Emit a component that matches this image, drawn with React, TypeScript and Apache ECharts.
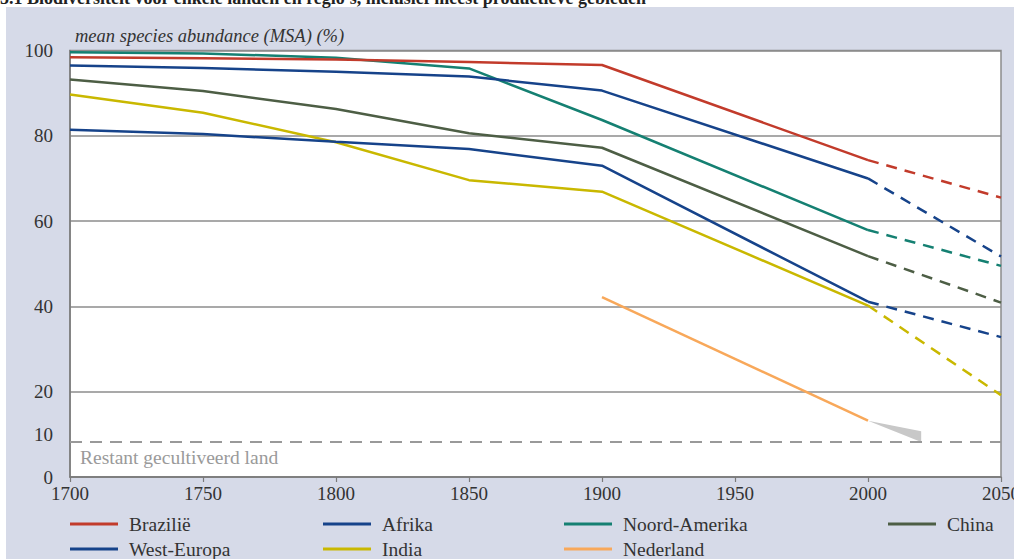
import React, { useEffect, useRef } from "react";
import * as echarts from "echarts";

// ---- data ----
const histYears = [1700, 1750, 1800, 1850, 1900, 2000];
const projYears = [2000, 2050];

const brazilie = [98.4, 98.2, 97.9, 97.3, 96.6, 74.3];
const brazilieProj = [74.3, 65.5];
const afrika = [96.5, 95.9, 95.0, 93.9, 90.6, 70.0];
const afrikaProj = [70.0, 51.7];
const noordAmerika = [99.6, 99.3, 98.3, 95.8, 83.7, 57.9];
const noordAmerikaProj = [57.9, 49.5];
const china = [93.2, 90.5, 86.3, 80.6, 77.2, 51.8];
const chinaProj = [51.8, 40.9];
const westEuropa = [81.4, 80.4, 78.6, 76.9, 73.0, 41.1];
const westEuropaProj = [41.1, 32.8];
const india = [89.7, 85.4, 78.5, 69.6, 66.9, 40.2];
const indiaProj = [40.2, 19.2];
const nederlandYears = [1900, 2000];
const nederland = [42.2, 13.2];

const wedgeYears = [2000, 2020, 2020];
const wedgeValues = [13.2, 10.7, 8.2];

const restantYears = [1700, 2050];
const restantValue = 8.2;

const yTickLabels = [0, 10, 20, 40, 60, 80, 100];

const FONT = "'Liberation Serif', 'Times New Roman', serif";

const COLORS: Record<string, string> = {
  "Brazilië": "#c23b2b",
  Afrika: "#16438a",
  "Noord-Amerika": "#158072",
  China: "#4d5e45",
  "West-Europa": "#16438a",
  India: "#c9b800",
  Nederland: "#f8a85a",
};

const pairs = (xs: number[], ys: number[]) => xs.map((x, i) => [x, ys[i]]);

export default function App() {
  const ref = useRef<HTMLDivElement>(null);

  useEffect(() => {
    if (!ref.current) return;
    const chart = echarts.init(ref.current, undefined, { renderer: "svg" });

    const regions: [string, number[], number[]][] = [
      ["Brazilië", brazilie, brazilieProj],
      ["Afrika", afrika, afrikaProj],
      ["Noord-Amerika", noordAmerika, noordAmerikaProj],
      ["China", china, chinaProj],
      ["West-Europa", westEuropa, westEuropaProj],
      ["India", india, indiaProj],
    ];

    const series: any[] = [];
    series.push({
      name: "Restant gecultiveerd land",
      type: "line",
      data: pairs(restantYears, restantYears.map(() => restantValue)),
      showSymbol: false,
      lineStyle: { color: "#999", width: 2, type: [12, 8] },
      itemStyle: { color: "#999" },
      silent: true,
      z: 1,
    });
    series.push({
      name: "wedge",
      type: "custom",
      data: [[2010, 10]],
      silent: true,
      z: 1,
      renderItem: (_p: any, api: any) => {
        const pts = wedgeYears.map((x, i) => api.coord([x, wedgeValues[i]]));
        return { type: "polygon", shape: { points: pts }, style: { fill: "#c8c8c8" } };
      },
    });
    regions.forEach(([name, hist, proj]) => {
      series.push({
        name: name + " (projectie)",
        type: "line",
        data: pairs(projYears, proj),
        showSymbol: false,
        lineStyle: { color: COLORS[name], width: 2.5, type: [11, 8] },
        itemStyle: { color: COLORS[name] },
        z: 2,
      });
    });
    series.push({
      name: "Nederland",
      type: "line",
      data: pairs(nederlandYears, nederland),
      showSymbol: false,
      lineStyle: { color: COLORS["Nederland"], width: 2.5 },
      itemStyle: { color: COLORS["Nederland"] },
      z: 3,
    });
    [...regions].reverse().forEach(([name, hist]) => {
      series.push({
        name,
        type: "line",
        data: pairs(histYears, hist),
        showSymbol: false,
        lineStyle: { color: COLORS[name], width: 2.5 },
        itemStyle: { color: COLORS[name] },
        z: 3,
      });
    });

    const row1 = 514;
    const row2 = 539;
    const legendItems: [string, number, number][] = [
      ["Brazilië", 70, row1],
      ["Afrika", 323, row1],
      ["Noord-Amerika", 564, row1],
      ["China", 888, row1],
      ["West-Europa", 70, row2],
      ["India", 323, row2],
      ["Nederland", 564, row2],
    ];

    const option: any = {
      animation: false,
      grid: {
        left: 70,
        right: 13,
        top: 50.5,
        bottom: 82,
        containLabel: false,
        outerBoundsMode: "none",
        show: true,
        backgroundColor: "#ffffff",
        borderColor: "#8c8c8c",
        borderWidth: 1.5,
      },
      xAxis: {
        type: "value",
        min: 1700,
        max: 2050,
        interval: 50,
        axisLine: { show: true, lineStyle: { color: "#7a7a7a", width: 1.5 } },
        axisTick: { show: true, length: 5, lineStyle: { color: "#7a7a7a", width: 1.2 } },
        splitLine: { show: false },
        axisLabel: {
          color: "#333",
          fontFamily: FONT,
          fontSize: 19,
          margin: 7,
          hideOverlap: false,
          formatter: (v: number) => String(v),
        },
      },
      yAxis: {
        type: "value",
        min: 0,
        max: 100,
        interval: 10,
        axisLine: { show: true, lineStyle: { color: "#7a7a7a", width: 1.5 } },
        axisTick: { show: false },
        splitLine: {
          show: true,
          lineStyle: { color: ["#8c8c8c", "transparent"], width: 1.5 },
        },
        axisLabel: {
          color: "#333",
          fontFamily: FONT,
          fontSize: 19,
          margin: 17,
          formatter: (v: number) => (yTickLabels.includes(v) ? String(v) : ""),
        },
      },
      legend: legendItems.map(([name, left, top]) => ({
        data: [name],
        left,
        top,
        padding: 0,
        icon: "rect",
        itemWidth: 48,
        itemHeight: 3,
        selectedMode: false,
        textStyle: {
          color: "#333",
          fontFamily: FONT,
          fontSize: 19.5,
          padding: [0, 0, 0, 6],
        },
      })),
      graphic: [
        {
          type: "text",
          left: 0,
          top: -11,
          style: {
            text: "5.1 Biodiversiteit voor enkele landen en regio's, inclusief meest productieve gebieden",
            font: "bold 18px " + FONT,
            fill: "#222",
          },
        },
        {
          type: "text",
          left: 75,
          top: 26,
          style: {
            text: "mean species abundance (MSA) (%)",
            font: "italic 18.5px " + FONT,
            fill: "#333",
          },
        },
        {
          type: "text",
          left: 80,
          top: 447,
          style: {
            text: "Restant gecultiveerd land",
            font: "19.5px " + FONT,
            fill: "#9a9a9a",
          },
          z: 10,
        },
      ],
      series,
    };

    chart.setOption(option);
    return () => chart.dispose();
  }, []);

  return (
    <div
      style={{
        position: "fixed",
        left: 0,
        top: 0,
        width: 1014,
        height: 559,
        background: "#ffffff",
        overflow: "hidden",
      }}
    >
      <div
        style={{
          position: "absolute",
          left: 6,
          top: 7,
          width: 1008,
          height: 552,
          background: "#d6dae8",
        }}
      />
      <div ref={ref} style={{ position: "absolute", left: 0, top: 0, width: 1014, height: 559 }} />
    </div>
  );
}
